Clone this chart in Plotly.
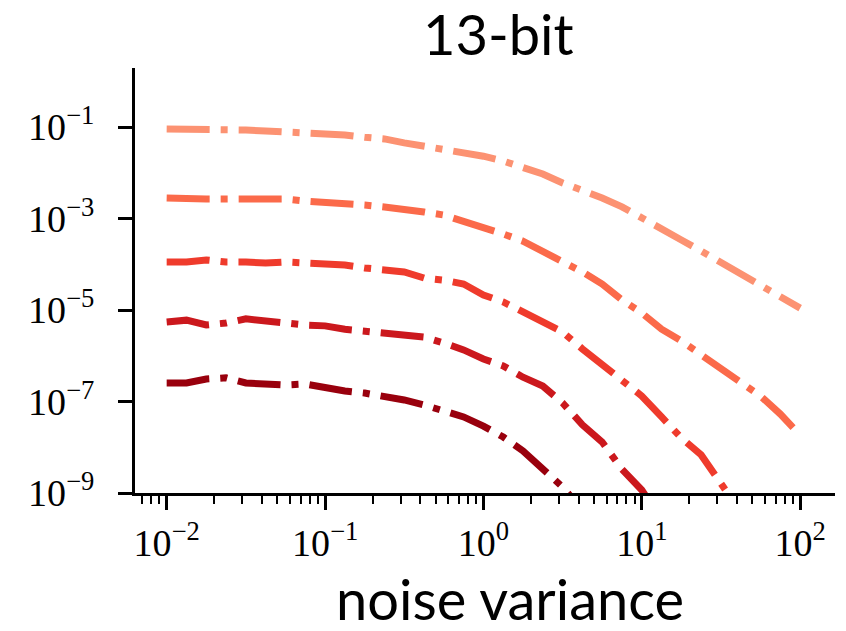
import plotly.graph_objects as go

noise_variance = [0.01, 0.01334, 0.01778, 0.02371, 0.03162, 0.04217, 0.05623, 0.07499,
                  0.1, 0.1334, 0.1778, 0.2371, 0.3162, 0.4217, 0.5623, 0.7499,
                  1.0, 1.334, 1.778, 2.371, 3.162, 4.217, 5.623, 7.499,
                  10.0, 13.34, 17.78, 23.71, 31.62, 42.17, 56.23, 74.99, 100.0]

series_1 = [9.0e-2, 9.0e-2, 9.0e-2, 9.0e-2, 8.6e-2, 8.2e-2, 7.8e-2, 7.8e-2,
            7.4e-2, 6.7e-2, 6.0e-2, 5.5e-2, 4.5e-2, 3.85e-2, 3.3e-2, 2.85e-2,
            2.3e-2, 1.8e-2, 1.35e-2, 9.4e-3, 6.0e-3, 4.2e-3, 2.8e-3, 1.8e-3,
            1.0e-3, 5.9e-4, 3.4e-4, 1.95e-4, 1.1e-4, 6.1e-5, 3.4e-5, 1.9e-5, 1.1e-5]

series_2 = [2.81e-3, 2.67e-3, 2.67e-3, 2.67e-3, 2.67e-3, 2.67e-3, 2.67e-3, 2.41e-3,
            2.3e-3, 2.08e-3, 1.97e-3, 1.78e-3, 1.61e-3, 1.39e-3, 1.19e-3, 8.8e-4,
            6.2e-4, 4.6e-4, 3.2e-4, 1.95e-4, 1.12e-4, 6.8e-5, 3.7e-5, 1.66e-5,
            8.6e-6, 3.8e-6, 2.1e-6, 1.04e-6, 5.4e-7, 2.67e-7, 1.32e-7, 5.3e-8, 1.85e-8]

series_3 = [1.12e-4, 1.12e-4, 1.24e-4, 1.12e-4, 1.12e-4, 1.06e-4, 1.12e-4, 1.06e-4,
            1.06e-4, 9.6e-5, 8.3e-5, 7.5e-5, 6.8e-5, 5.0e-5, 4.5e-5, 3.7e-5,
            2.13e-5, 1.5e-5, 9.0e-6, 5.2e-6, 3.3e-6, 1.41e-6, 6.6e-7, 2.95e-7,
            1.32e-7, 4.6e-8, 1.59e-8, 6.8e-9, 1.66e-9, 3.8e-10, None, None, None]

series_4 = [5.5e-6, 6.0e-6, 4.7e-6, 5.2e-6, 6.4e-6, 6.0e-6, 5.2e-6, 4.7e-6,
            4.5e-6, 3.8e-6, 3.5e-6, 3.1e-6, 2.84e-6, 2.57e-6, 1.9e-6, 1.34e-6,
            8.5e-7, 6.0e-7, 3.4e-7, 2.18e-7, 9.3e-8, 3.1e-8, 1.3e-8, 3.3e-9,
            1.16e-9, 2.6e-10, None, None, None, None, None, None, None]

series_5 = [2.54e-7, 2.54e-7, 3.1e-7, 3.3e-7, 2.54e-7, 2.41e-7, 2.3e-7, 2.41e-7,
            1.97e-7, 1.7e-7, 1.53e-7, 1.32e-7, 1.08e-7, 8.4e-8, 6.5e-8, 4.6e-8,
            2.9e-8, 1.67e-8, 8.3e-9, 3.3e-9, 1.35e-9, 4.2e-10, None, None,
            None, None, None, None, None, None, None, None, None]

all_series = [series_1, series_2, series_3, series_4, series_5]
colors = ["#FC9272", "#FB6A4A", "#EF3B2C", "#CB181D", "#99000D"]

x_tickvals = [0.01, 0.1, 1, 10, 100]
x_ticktext = ["10<sup>−2</sup>", "10<sup>−1</sup>", "10<sup>0</sup>", "10<sup>1</sup>", "10<sup>2</sup>"]
y_tickvals = [1e-1, 1e-3, 1e-5, 1e-7, 1e-9]
y_ticktext = ["10<sup>−1</sup>", "10<sup>−3</sup>", "10<sup>−5</sup>", "10<sup>−7</sup>", "10<sup>−9</sup>"]
title_text = "13-bit"
xlabel_text = "noise variance"

minor_x = [d * 10.0 ** e for e in range(-3, 3) for d in range(2, 10)]

fig = go.Figure()
for ys, c in zip(all_series, colors):
    fig.add_trace(go.Scatter(
        x=noise_variance, y=ys, mode="lines",
        line=dict(color=c, width=7, dash="43px,11px,7px,11px"),
        showlegend=False, hoverinfo="skip"))

tick_font = dict(family="Liberation Serif, DejaVu Serif, serif", size=38, color="black")

fig.update_layout(
    width=846, height=631,
    margin=dict(l=135, r=11, t=68, b=138, pad=0),
    paper_bgcolor="white", plot_bgcolor="white",
    xaxis=dict(type="log", range=[-2.2, 2.22], showgrid=False, zeroline=False,
               showline=True, linewidth=3, linecolor="black",
               ticks="outside", ticklen=14, tickwidth=3, tickcolor="black",
               tickmode="array", tickvals=x_tickvals, ticktext=x_ticktext,
               tickfont=tick_font, ticklabelstandoff=0,
               minor=dict(tickmode="array", tickvals=minor_x, ticks="outside",
                          ticklen=8, tickwidth=2, tickcolor="black", showgrid=False)),
    yaxis=dict(type="log", range=[-9, 0.29], showgrid=False, zeroline=False,
               showline=True, linewidth=3, linecolor="black",
               ticks="outside", ticklen=14, tickwidth=3, tickcolor="black",
               tickmode="array", tickvals=y_tickvals, ticktext=y_ticktext,
               tickfont=tick_font, ticklabelstandoff=16),
    annotations=[
        dict(text=title_text, xref="paper", yref="paper",
             x=(498 - 135) / 700, y=(493 - 34) / 425, xanchor="center", yanchor="middle",
             showarrow=False, font=dict(family="Lato, Open Sans, sans-serif", size=56, color="black")),
        dict(text=xlabel_text, xref="paper", yref="paper",
             x=(510 - 135) / 700, y=(493 - 598) / 425, xanchor="center", yanchor="middle",
             showarrow=False, font=dict(family="Lato, Open Sans, sans-serif", size=56, color="black")),
    ],
)

fig.write_html("out.html", config={"displayModeBar": False},
               post_script="document.body.style.margin='0px';document.body.style.padding='0px';")
